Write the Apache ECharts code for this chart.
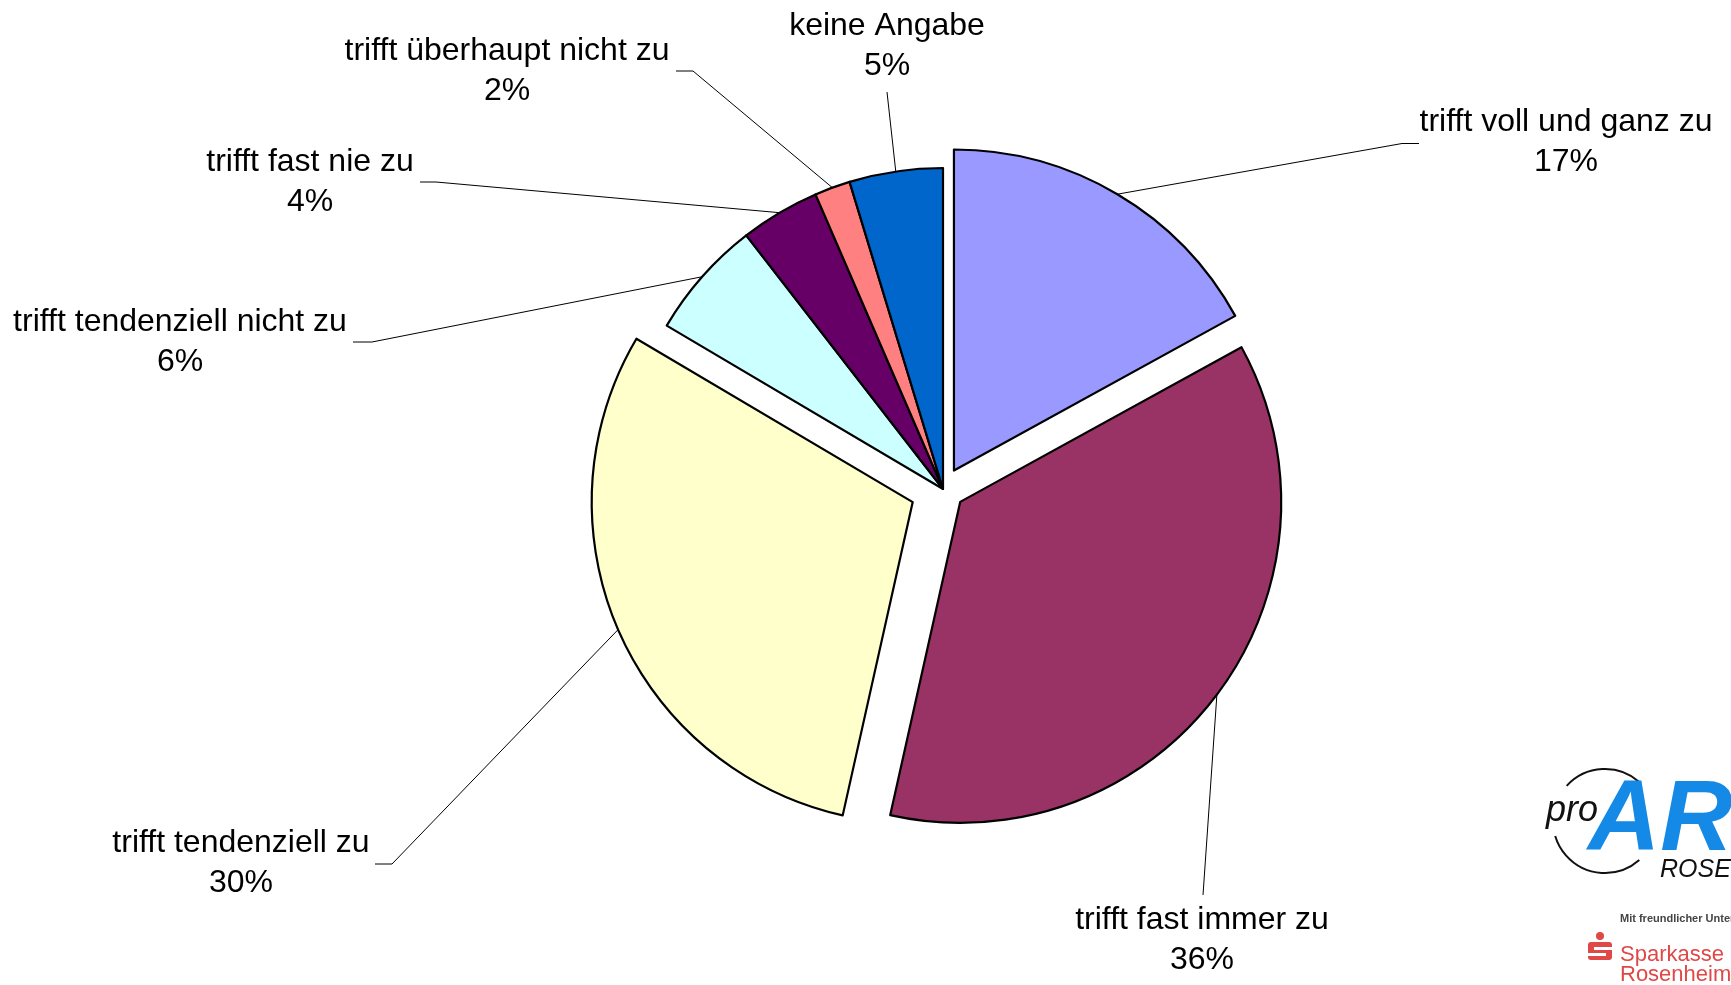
<!DOCTYPE html>
<html><head><meta charset="utf-8">
<script src="https://cdn.jsdelivr.net/npm/echarts@6/dist/echarts.min.js"></script>
<style>html,body{margin:0;padding:0;background:#fff;}#chart{width:1731px;height:985px;}</style>
</head><body><div id="chart"></div>
<script>
// ---- data (shares in %; labels show rounded %) ----
const categories = ['trifft voll und ganz zu', 'trifft fast immer zu', 'trifft tendenziell zu',
  'trifft tendenziell nicht zu', 'trifft fast nie zu', 'trifft überhaupt nicht zu', 'keine Angabe'];
const shares = [17, 36.5, 30, 6, 4, 1.8, 4.7];
const sliceColors = ['#9999FF', '#993366', '#FFFFCC', '#CCFFFF', '#660066', '#FF8080', '#0066CC'];
const explodedSmall = ['trifft voll und ganz zu', 'trifft fast immer zu'];
const explodedLarge = ['trifft tendenziell zu'];

// ---- label layout (text block centre + leader elbow/end) ----
const labelPlacement = {
  'trifft voll und ganz zu':     { x: 1566, y: 142, line: [[1402, 143.5], [1419, 143.5]] },
  'trifft fast immer zu':        { x: 1202, y: 940, line: [[1203, 895], [1203, 895]] },
  'trifft tendenziell zu':       { x: 241,  y: 863, line: [[392, 864], [375, 864]] },
  'trifft tendenziell nicht zu': { x: 180,  y: 342, line: [[372, 342], [353, 342]] },
  'trifft fast nie zu':          { x: 310,  y: 182, line: [[436, 182], [420, 182]] },
  'trifft überhaupt nicht zu':   { x: 507,  y: 71,  line: [[693, 71], [676, 71]] },
  'keine Angabe':                { x: 887,  y: 46,  line: [[887, 92], [887, 92]] }
};

const SMALL_OFFSET = 21.5, LARGE_OFFSET = 33;
const hidden = { color: 'rgba(0,0,0,0)', borderColor: 'rgba(0,0,0,0)', borderWidth: 0 };
const CENTER = [943, 489], R = 321;
const FONT = '"Liberation Sans", Arial, sans-serif';
const BORDER = 2.2;

function seriesData(visible, selectedSet) {
  return categories.map((c, i) => {
    const show = visible(c);
    return {
      name: c, value: shares[i],
      selected: show && selectedSet,
      itemStyle: show ? { color: sliceColors[i], borderColor: '#000', borderWidth: BORDER } : hidden
    };
  });
}
const isExploded = c => explodedSmall.includes(c) || explodedLarge.includes(c);
function explodeOffset(c) {
  if (explodedSmall.includes(c)) return SMALL_OFFSET;
  if (explodedLarge.includes(c)) return LARGE_OFFSET;
  return 0;
}

const common = {
  type: 'pie', center: CENTER, radius: R, startAngle: 90, clockwise: true,
  avoidLabelOverlap: false, animation: false, percentPrecision: 0,
  emphasis: { disabled: true }, silent: true
};

const option = {
  backgroundColor: '#fff',
  series: [
    Object.assign({}, common, {
      z: 1,
      data: seriesData(c => !isExploded(c), false),
      label: {
        show: true, position: 'outside', color: '#000', fontFamily: FONT,
        fontSize: 32, lineHeight: 40, align: 'center',
        formatter: p => p.name + '\n' + p.percent + '%'
      },
      labelLine: { show: true, length: 10, length2: 10, lineStyle: { color: '#000', width: 1 } },
      labelLayout: function (p) {
        const name = categories[p.dataIndex];
        const pl = labelPlacement[name];
        let first = p.labelLinePoints ? p.labelLinePoints[0].slice() : pl.line[0];
        const off = explodeOffset(name);
        if (off) {
          const dx = first[0] - CENTER[0], dy = first[1] - CENTER[1];
          const len = Math.sqrt(dx * dx + dy * dy) || 1;
          first = [first[0] + dx / len * off, first[1] + dy / len * off];
        }
        return { x: pl.x, y: pl.y, align: 'center', verticalAlign: 'middle',
                 labelLinePoints: [first, pl.line[0], pl.line[1]] };
      }
    }),
    Object.assign({}, common, {
      z: 3, selectedMode: 'multiple', selectedOffset: SMALL_OFFSET,
      data: seriesData(c => explodedSmall.includes(c), true),
      label: { show: false }, labelLine: { show: false }
    }),
    Object.assign({}, common, {
      z: 3, selectedMode: 'multiple', selectedOffset: LARGE_OFFSET,
      data: seriesData(c => explodedLarge.includes(c), true),
      label: { show: false }, labelLine: { show: false }
    })
  ],
  graphic: [
    { type: 'arc', shape: { cx: 1605, cy: 821, r: 52, startAngle: -2.4, endAngle: -0.85 },
      style: { stroke: '#111', lineWidth: 2, fill: null } },
    { type: 'arc', shape: { cx: 1605, cy: 821, r: 52, startAngle: 0.85, endAngle: 2.85 },
      style: { stroke: '#111', lineWidth: 2, fill: null } },
    { type: 'text', x: 1546, y: 811,
      style: { text: 'pro', font: 'italic 36px ' + FONT, fill: '#111', textAlign: 'left', textVerticalAlign: 'middle' } },
    { type: 'text', x: 1588, y: 822,
      style: { text: 'ARBEIT', font: 'italic bold 100px ' + FONT, fill: '#1589e6', textAlign: 'left', textVerticalAlign: 'middle' } },
    { type: 'text', x: 1660, y: 870,
      style: { text: 'ROSENHEIM', font: 'italic 25px ' + FONT, fill: '#111', textAlign: 'left', textVerticalAlign: 'middle' } },
    { type: 'text', x: 1620, y: 919,
      style: { text: 'Mit freundlicher Unterstützung', font: 'bold 11px ' + FONT, fill: '#444', textAlign: 'left', textVerticalAlign: 'middle' } },
    { type: 'circle', shape: { cx: 1600, cy: 936, r: 4 }, style: { fill: '#e04848' } },
    { type: 'rect', shape: { x: 1588, y: 942, width: 24, height: 18, r: 3 }, style: { fill: '#e04848' } },
    { type: 'rect', shape: { x: 1594, y: 947, width: 18, height: 3 }, style: { fill: '#fff' } },
    { type: 'rect', shape: { x: 1588, y: 953, width: 18, height: 3 }, style: { fill: '#fff' } },
    { type: 'text', x: 1620, y: 955,
      style: { text: 'Sparkasse', font: '22px ' + FONT, fill: '#e04848', textAlign: 'left', textVerticalAlign: 'middle' } },
    { type: 'text', x: 1620, y: 975,
      style: { text: 'Rosenheim-Bad Aibling', font: '22px ' + FONT, fill: '#e04848', textAlign: 'left', textVerticalAlign: 'middle' } }
  ]
};

const chart = echarts.init(document.getElementById('chart'), null, { renderer: 'canvas' });
chart.setOption(option);
</script>
</body></html>
